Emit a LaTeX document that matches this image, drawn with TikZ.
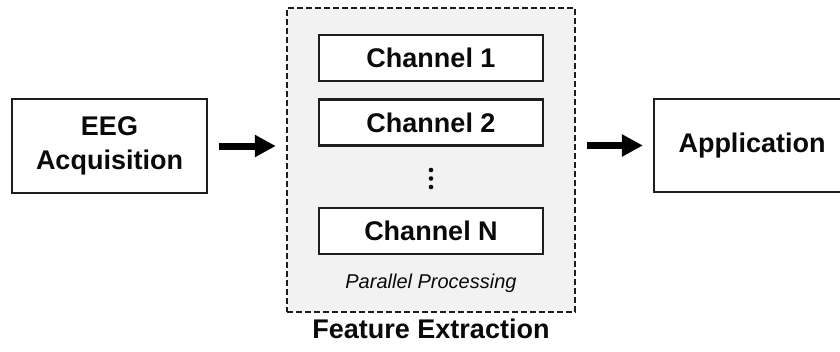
\documentclass[tikz,border=0pt]{standalone}
\usepackage{fontspec}
\setmainfont{Liberation Sans}
\usetikzlibrary{arrows.meta}
\definecolor{inkc}{HTML}{0A0A0A}
\definecolor{edgec}{HTML}{1E1E1E}
\definecolor{panelc}{HTML}{F2F2F2}
\begin{document}
\begin{tikzpicture}[x=1pt,y=-1pt,
  stagebox/.style={draw=edgec, line width=2.2pt, fill=white, inner sep=0pt,
    minimum width=195pt, minimum height=94pt, align=center, text=inkc,
    font=\fontsize{27}{34}\selectfont\bfseries},
  chanbox/.style={draw=edgec, line width=2.2pt, fill=white, inner sep=0pt,
    minimum width=224pt, minimum height=46pt, text=inkc,
    font=\fontsize{27}{32}\selectfont\bfseries},
  panel/.style={draw=edgec, line width=2.4pt, dash pattern=on 6pt off 3pt,
    fill=panelc, inner sep=0pt, minimum width=288pt, minimum height=304pt},
  flowarrow/.style={draw=black, line width=7pt,
    -{Triangle[length=21pt,width=21pt]}, shorten <=11pt, shorten >=10pt}
]
\clip (0,0) rectangle (840,351);
\fill[white] (0,0) rectangle (840,351);

% feature extraction panel with its channels
\node[panel] (fe) at (431,160) {};
\node[chanbox] (ch1) at (431,58) {Channel 1};
\node[chanbox] (ch2) at (431,122.5) {Channel 2};
\node[chanbox] (chN) at (431,231) {Channel N};
\foreach \yy in {170,178.5,187} \fill[inkc] (431,\yy) circle (2.3pt);
\node[anchor=base, text=inkc, inner sep=0pt,
  font=\fontsize{20}{24}\selectfont\itshape] (pp) at (431,288) {Parallel Processing};
\node[anchor=base, text=inkc, inner sep=0pt,
  font=\fontsize{27}{32}\selectfont\bfseries] (fel) at (431,338) {Feature Extraction};

% input and output stages
\node[stagebox] (eeg) at (109.5,146) {EEG\\Acquisition};
\node[stagebox, minimum width=196pt, minimum height=93pt] (app) at (752,145.5) {Application};

% flow arrows
\draw[flowarrow] (eeg.east) -- (eeg.east -| fe.west);
\draw[flowarrow] (app.west -| fe.east) -- (app.west);
\end{tikzpicture}
\end{document}
